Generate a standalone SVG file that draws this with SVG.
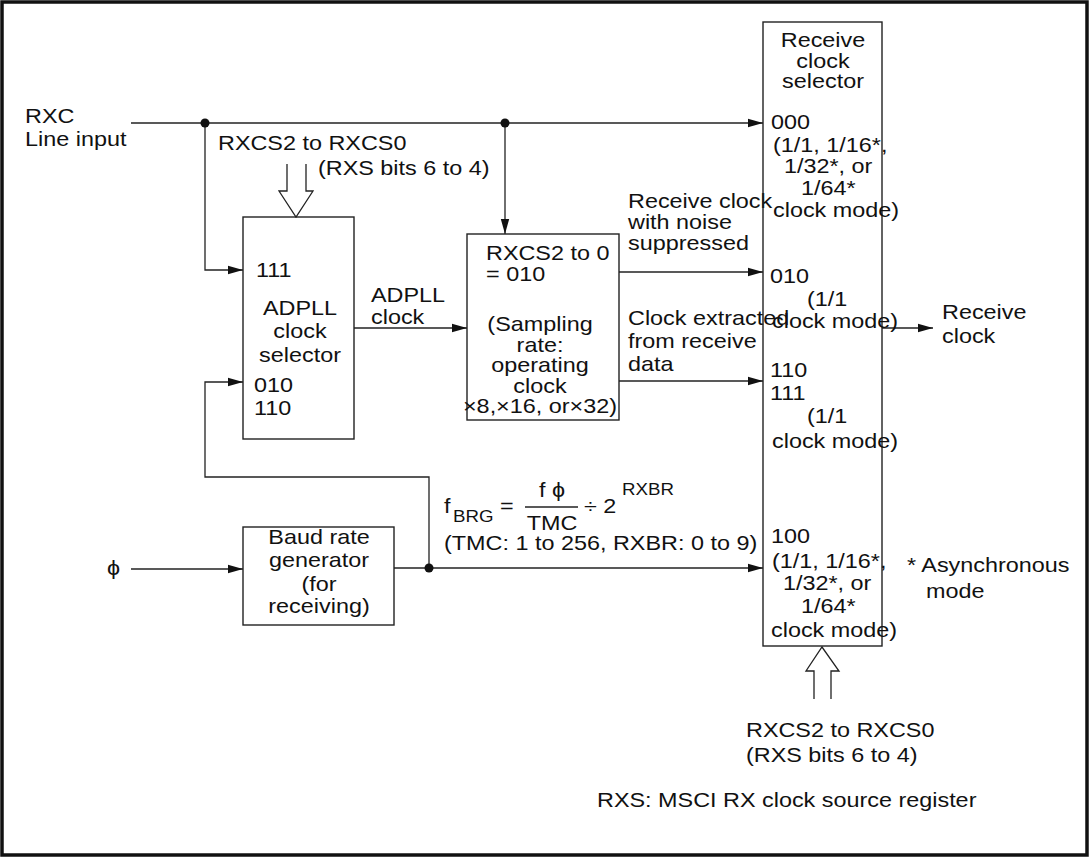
<svg xmlns="http://www.w3.org/2000/svg" width="1089" height="857" viewBox="0 0 1089 857">
<style>
.t{font-family:"Liberation Sans",Arial,Helvetica,"DejaVu Sans",sans-serif;font-size:20px;fill:#111}
.s{font-size:16px}
.m{text-anchor:middle}
.box{fill:none;stroke:#222;stroke-width:1.4}
.ln{fill:none;stroke:#222;stroke-width:1.3}
.dot{fill:#111}
</style>
<defs>
<marker id="ah" viewBox="0 0 15 10" refX="15" refY="5" markerWidth="15" markerHeight="10" markerUnits="userSpaceOnUse" orient="auto">
<path d="M0,0.8 L15,5 L0,9.2 Z" fill="#111"/>
</marker>
</defs>
<rect x="2" y="2" width="1085" height="853" fill="#fff" stroke="#111" stroke-width="3.5"/>

<g id="connectors">
<path class="ln" d="M131,123 H763" marker-end="url(#ah)"/>
<path class="ln" d="M205,123 V270 H243" marker-end="url(#ah)"/>
<path class="ln" d="M505,123 V234" marker-end="url(#ah)"/>
<path class="ln" d="M354,328 H467" marker-end="url(#ah)"/>
<path class="ln" d="M619,272 H763" marker-end="url(#ah)"/>
<path class="ln" d="M619,381 H763" marker-end="url(#ah)"/>
<path class="ln" d="M882,328 H933" marker-end="url(#ah)"/>
<path class="ln" d="M131,569 H243" marker-end="url(#ah)"/>
<path class="ln" d="M394,568 H763" marker-end="url(#ah)"/>
<path class="ln" d="M429,568 V477 H205 V382 H243" marker-end="url(#ah)"/>
<circle class="dot" cx="205" cy="123" r="4.5"/>
<circle class="dot" cx="505" cy="123" r="4.5"/>
<circle class="dot" cx="429" cy="568" r="4.5"/>
<polyline class="ln" points="287,164 287,191 279,191 296,217 313,191 306,191 306,164"/>
<polyline class="ln" points="814,699 814,671 806,671 822,647 839,671 831,671 831,699"/>
</g>

<g id="rxc-input">
<text class="t" transform="translate(25,123) scale(1.17 1)"><tspan x="0">RXC</tspan><tspan x="0" dy="23">Line input</tspan></text>
</g>

<g id="top-select-label">
<text class="t" transform="translate(218,150) scale(1.17 1)">RXCS2 to RXCS0</text>
<text class="t" transform="translate(318,175) scale(1.17 1)">(RXS bits 6 to 4)</text>
</g>

<g id="adpll-selector">
<rect class="box" x="243" y="217" width="111" height="222"/>
<text class="t" transform="translate(256,277) scale(1.17 1)">111</text>
<text class="t m" transform="translate(300,315) scale(1.17 1)"><tspan x="0">ADPLL</tspan><tspan x="0" dy="23">clock</tspan><tspan x="0" dy="24">selector</tspan></text>
<text class="t" transform="translate(254,392) scale(1.17 1)"><tspan x="0">010</tspan><tspan x="0" dy="23">110</tspan></text>
</g>

<g id="adpll-clock-label">
<text class="t" transform="translate(371,302) scale(1.17 1)"><tspan x="0">ADPLL</tspan><tspan x="0" dy="22">clock</tspan></text>
</g>

<g id="noise-filter">
<rect class="box" x="467" y="234" width="152" height="186"/>
<text class="t" transform="translate(486,260) scale(1.17 1)"><tspan x="0">RXCS2 to 0</tspan><tspan x="0" dy="21">= 010</tspan></text>
<text class="t m" transform="translate(540,331) scale(1.17 1)"><tspan x="0">(Sampling</tspan><tspan x="0" dy="21">rate:</tspan><tspan x="0" dy="20">operating</tspan><tspan x="0" dy="21">clock</tspan><tspan x="0" dy="20">×8,×16, or×32)</tspan></text>
</g>

<g id="mid-labels">
<text class="t" transform="translate(628,208) scale(1.17 1)"><tspan x="0">Receive clock</tspan><tspan x="0" dy="21">with noise</tspan><tspan x="0" dy="21">suppressed</tspan></text>
<text class="t" transform="translate(628,325) scale(1.17 1)"><tspan x="0">Clock extracted</tspan><tspan x="0" dy="23">from receive</tspan><tspan x="0" dy="23">data</tspan></text>
</g>

<g id="baud-rate-generator">
<rect class="box" x="243" y="527" width="151" height="98"/>
<text class="t m" transform="translate(319,544) scale(1.17 1)"><tspan x="0">Baud rate</tspan><tspan x="0" dy="23">generator</tspan><tspan x="0" dy="24">(for</tspan><tspan x="0" dy="22">receiving)</tspan></text>
</g>

<g id="phi-input">
<text class="t" transform="translate(107,575) scale(1.17 1)">ϕ</text>
</g>

<g id="formula">
<text class="t" transform="translate(444,513) scale(1.17 1)">f</text>
<text class="t s" transform="translate(453,522) scale(1.17 1)">BRG</text>
<text class="t" transform="translate(500,513) scale(1.17 1)">=</text>
<text class="t m" transform="translate(552,497) scale(1.17 1)">f ϕ</text>
<line class="ln" x1="525" y1="507" x2="578" y2="507"/>
<text class="t m" transform="translate(552,530) scale(1.17 1)">TMC</text>
<text class="t" transform="translate(584,513) scale(1.17 1)">÷ 2</text>
<text class="t s" transform="translate(622,495) scale(1.17 1)">RXBR</text>
<text class="t" transform="translate(444,550) scale(1.17 1)">(TMC: 1 to 256, RXBR: 0 to 9)</text>
</g>

<g id="receive-clock-selector">
<rect class="box" x="763" y="22" width="119" height="624"/>
<text class="t m" transform="translate(823,47) scale(1.17 1)"><tspan x="0">Receive</tspan><tspan x="0" dy="21">clock</tspan><tspan x="0" dy="20">selector</tspan></text>
<text class="t" transform="translate(771,129) scale(1.17 1)">000</text>
<text class="t" transform="translate(773,152) scale(1.17 1)">(1/1, 1/16*,</text>
<text class="t" transform="translate(784,173) scale(1.17 1)">1/32*, or</text>
<text class="t" transform="translate(801,195) scale(1.17 1)">1/64*</text>
<text class="t" transform="translate(773,217) scale(1.17 1)">clock mode)</text>
<text class="t" transform="translate(770,283) scale(1.17 1)">010</text>
<text class="t" transform="translate(807,306) scale(1.17 1)">(1/1</text>
<text class="t" transform="translate(772,328) scale(1.17 1)">clock mode)</text>
<text class="t" transform="translate(770,377) scale(1.17 1)">110</text>
<text class="t" transform="translate(770,400) scale(1.17 1)">111</text>
<text class="t" transform="translate(807,423) scale(1.17 1)">(1/1</text>
<text class="t" transform="translate(772,448) scale(1.17 1)">clock mode)</text>
<text class="t" transform="translate(771,543) scale(1.17 1)">100</text>
<text class="t" transform="translate(772,568) scale(1.17 1)">(1/1, 1/16*,</text>
<text class="t" transform="translate(783,590) scale(1.17 1)">1/32*, or</text>
<text class="t" transform="translate(801,613) scale(1.17 1)">1/64*</text>
<text class="t" transform="translate(771,637) scale(1.17 1)">clock mode)</text>
</g>

<g id="receive-clock-output">
<text class="t" transform="translate(942,319) scale(1.17 1)"><tspan x="0">Receive</tspan><tspan x="0" dy="24">clock</tspan></text>
</g>

<g id="async-note">
<text class="t" transform="translate(907,572) scale(1.17 1)">* Asynchronous</text>
<text class="t" transform="translate(926,598) scale(1.17 1)">mode</text>
</g>

<g id="bottom-select-label">
<text class="t" transform="translate(746,737) scale(1.17 1)"><tspan x="0">RXCS2 to RXCS0</tspan><tspan x="0" dy="25">(RXS bits 6 to 4)</tspan></text>
</g>

<g id="register-note">
<text class="t" transform="translate(597,807) scale(1.17 1)">RXS: MSCI RX clock source register</text>
</g>
</svg>
